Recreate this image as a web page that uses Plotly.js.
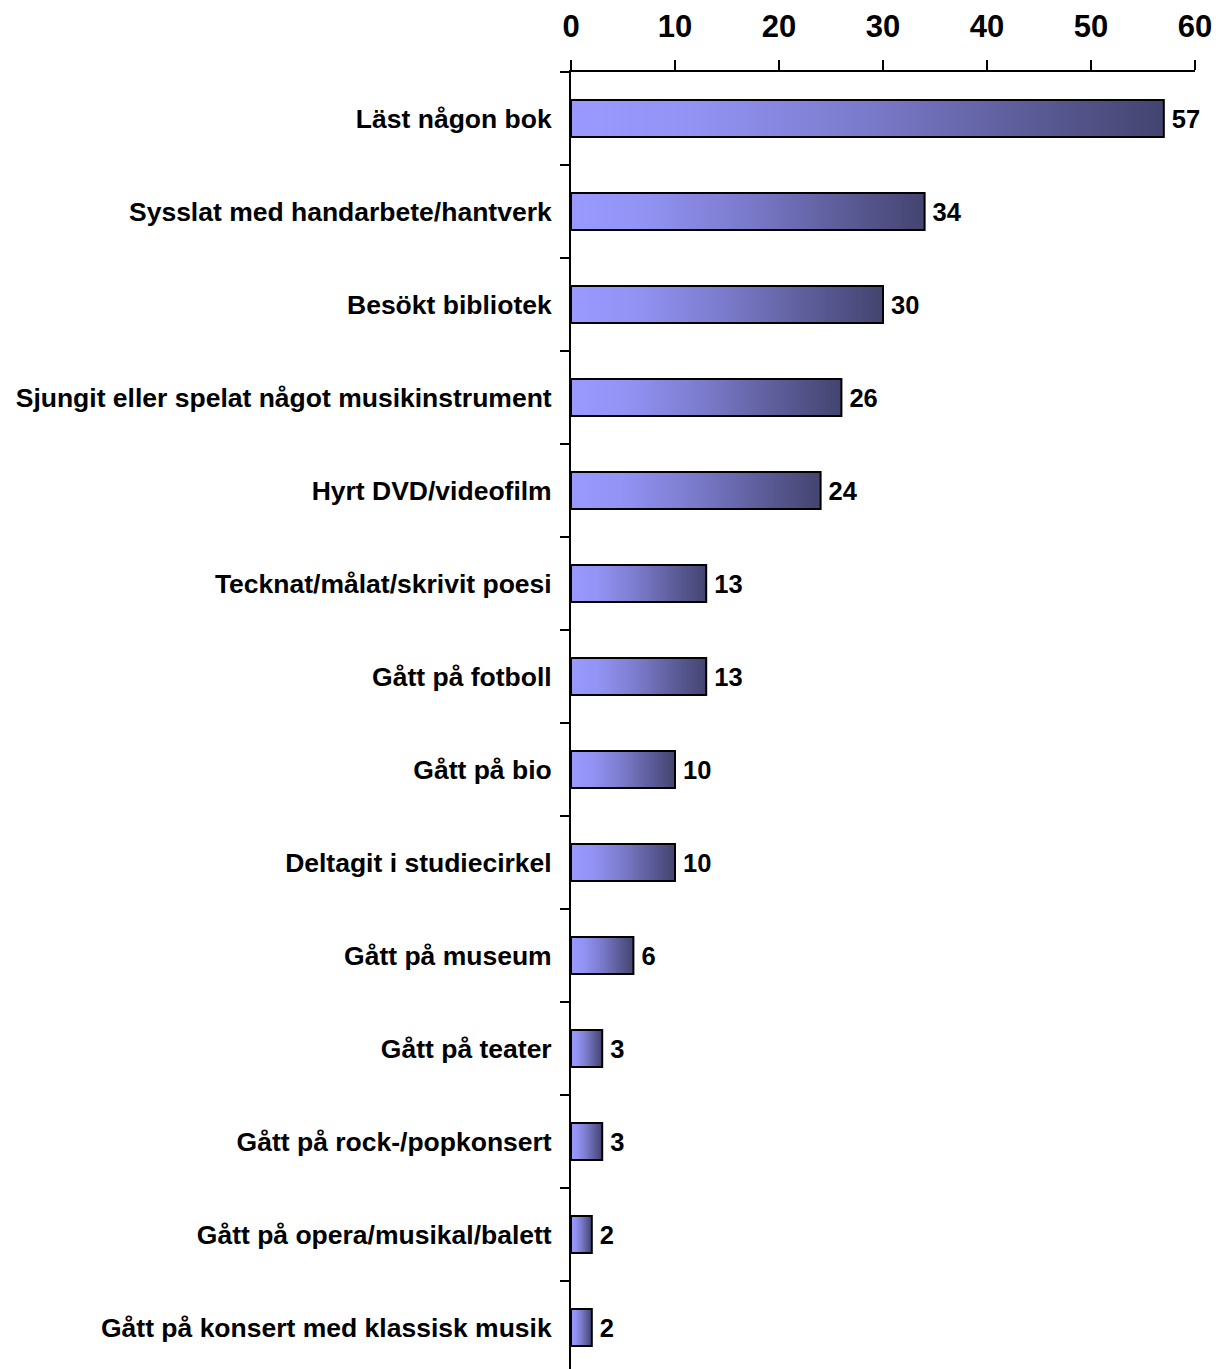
<!DOCTYPE html>
<html>
<head>
<meta charset="utf-8">
<script src="https://cdn.plot.ly/plotly-3.0.1.min.js"></script>
<style>
html,body{margin:0;padding:0;background:#fff;overflow:hidden;}
#chart{width:1227px;height:1380px;}
</style>
</head>
<body>
<div id="chart"></div>
<script>
const categories = [
  "Läst någon bok",
  "Sysslat med handarbete/hantverk",
  "Besökt bibliotek",
  "Sjungit eller spelat något musikinstrument",
  "Hyrt DVD/videofilm",
  "Tecknat/målat/skrivit poesi",
  "Gått på fotboll",
  "Gått på bio",
  "Deltagit i studiecirkel",
  "Gått på museum",
  "Gått på teater",
  "Gått på rock-/popkonsert",
  "Gått på opera/musikal/balett",
  "Gått på konsert med klassisk musik"
];
const values = [57, 34, 30, 26, 24, 13, 13, 10, 10, 6, 3, 3, 2, 2];
const xTicks = [0, 10, 20, 30, 40, 50, 60];

const FONT = "Liberation Sans, Arial, sans-serif";

const trace = {
  type: "bar",
  orientation: "h",
  x: values,
  y: categories,
  width: 0.4,
  marker: {color: "#8080d0", line: {color: "#000", width: 2}},
  text: values.map(String),
  textposition: "outside",
  cliponaxis: false,
  textfont: {family: FONT, size: 25.5, color: "#000", weight: "bold"},
  hoverinfo: "none"
};

const layout = {
  width: 1227,
  height: 1380,
  margin: {l: 571, r: 32, t: 72, b: 6},
  paper_bgcolor: "#fff",
  plot_bgcolor: "#fff",
  showlegend: false,
  font: {family: FONT, color: "#000"},
  xaxis: {
    side: "top",
    range: [0, 60],
    tickvals: xTicks,
    ticktext: xTicks.map(String),
    showgrid: false,
    zeroline: false,
    showline: true,
    linecolor: "#000",
    linewidth: 2,
    ticks: "outside",
    ticklen: 10,
    tickwidth: 2,
    tickcolor: "#000",
    ticklabelstandoff: 11,
    tickfont: {family: FONT, size: 31, color: "#000", weight: "bold"}
  },
  yaxis: {
    type: "category",
    autorange: false,
    range: [13.5, -0.5],
    showgrid: false,
    zeroline: false,
    showline: true,
    linecolor: "#000",
    linewidth: 2,
    ticks: "outside",
    tickson: "boundaries",
    ticklen: 9,
    tickwidth: 2,
    tickcolor: "#000",
    ticklabelstandoff: 12,
    tickfont: {family: FONT, size: 26.5, color: "#000", weight: "bold"}
  }
};

Plotly.newPlot("chart", [trace], layout, {displayModeBar: false, staticPlot: true}).then(function(gd){
  const svg = gd.querySelector("svg.main-svg");
  const ns = "http://www.w3.org/2000/svg";
  let defs = svg.querySelector("defs");
  if (!defs) { defs = document.createElementNS(ns, "defs"); svg.insertBefore(defs, svg.firstChild); }
  const grad = document.createElementNS(ns, "linearGradient");
  grad.setAttribute("id", "barGrad");
  grad.setAttribute("x1", "0"); grad.setAttribute("y1", "0");
  grad.setAttribute("x2", "1"); grad.setAttribute("y2", "0");
  [["0", "#9999ff"], ["0.2", "#9393f5"], ["0.5", "#7a7acb"], ["0.75", "#5e5e9c"], ["1", "#444470"]].forEach(function(s){
    const st = document.createElementNS(ns, "stop");
    st.setAttribute("offset", s[0]);
    st.setAttribute("stop-color", s[1]);
    grad.appendChild(st);
  });
  defs.appendChild(grad);
  gd.querySelectorAll(".trace.bars .point path").forEach(function(p){
    p.style.fill = "url(#barGrad)";
  });
  gd.querySelectorAll(".trace.bars .point text").forEach(function(t){
    const tr = t.getAttribute("transform") || "";
    t.setAttribute("transform", "translate(5,0) " + tr);
  });
});
</script>
</body>
</html>
